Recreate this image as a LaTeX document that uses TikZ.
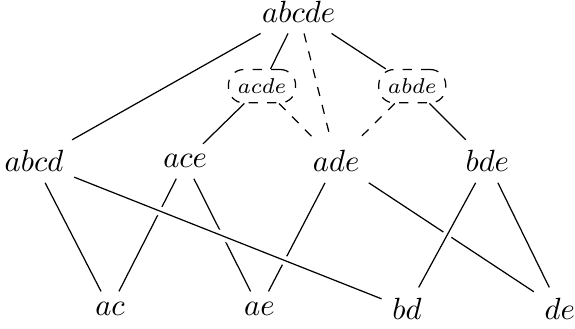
\documentclass[tikz,border=0pt]{standalone}
\usetikzlibrary{positioning,calc}
\begin{document}
\begin{tikzpicture}[
    setnode/.style={inner sep=3.33pt},
    subbox/.style={draw, dashed, rounded corners=5pt, inner sep=3pt, font=\scriptsize},
    over/.style={preaction={draw=white, line width=3pt}}
]
    \useasboundingbox (0,0) rectangle (6.584,3.767);

    % top
    \node[setnode] (abcde) at (3.42, 3.63) {$abcde$};
    \node[subbox] (acde) at (3.00, 2.78) {$acde$};
    \node[subbox] (abde) at (4.72, 2.78) {$abde$};

    % middle row
    \node[setnode] (abcd) at (0.39, 1.92) {$abcd$};
    \node[setnode] (ace) at (2.12, 1.92) {$ace$};
    \node[setnode] (ade) at (3.85, 1.92) {$ade$};
    \node[setnode] (bde) at (5.58, 1.92) {$bde$};

    % bottom row
    \node[setnode] (ac) at (1.26, 0.23) {$ac$};
    \node[setnode] (ae) at (2.97, 0.23) {$ae$};
    \node[setnode] (bd) at (4.66, 0.23) {$bd$};
    \node[setnode] (de) at (6.41, 0.23) {$de$};

    \draw (abcde) -- (abcd);
    \draw (abcde) -- (acde);
    \draw (abcde) -- (abde);
    \draw[dashed] (abcde) -- (ade);
    \draw (acde) -- (ace);
    \draw[dashed] (acde) -- (ade);
    \draw[dashed] (abde) -- (ade);
    \draw (abde) -- (bde);

    \draw (abcd) -- (ac);
    \draw (ace) -- (ac);
    \draw (ace) -- (ae);
    \draw (ade) -- (ae);
    \draw (ade) -- (de);
    \draw (bde) -- (de);
    % crossing edges on top
    \draw[over] (abcd) -- (bd);
    \draw[over] (bde) -- (bd);
\end{tikzpicture}
\end{document}
